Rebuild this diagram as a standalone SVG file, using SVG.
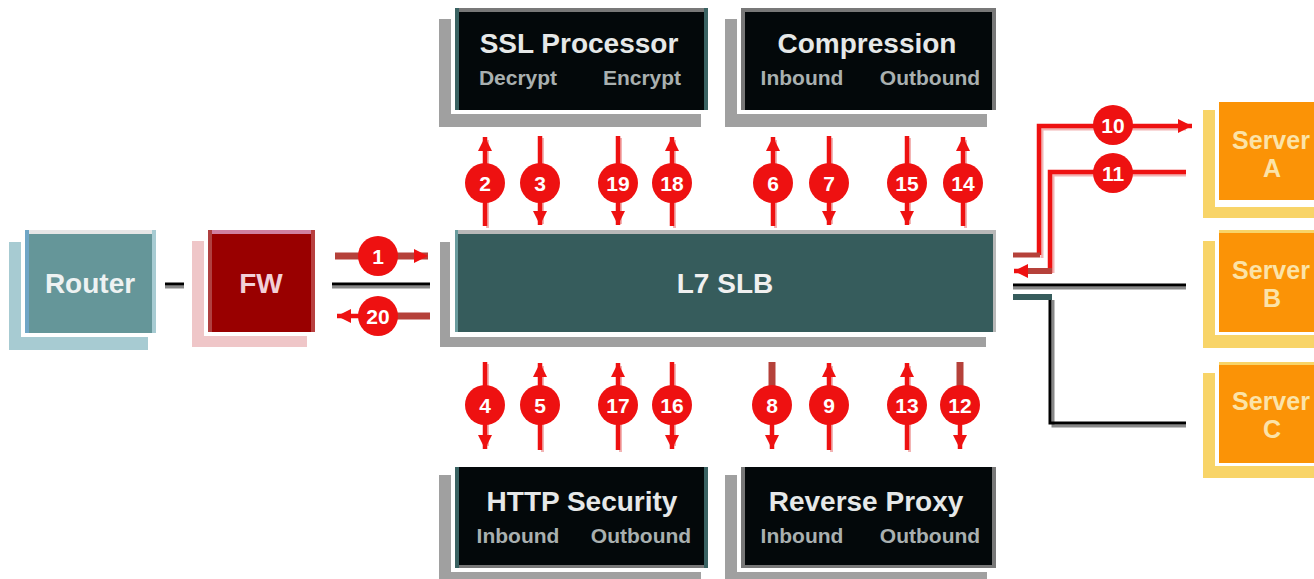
<svg xmlns="http://www.w3.org/2000/svg" width="1314" height="579" viewBox="0 0 1314 579">
<defs>
<marker id="ah" markerUnits="userSpaceOnUse" markerWidth="16" markerHeight="16" refX="14" refY="7" orient="auto"><path d="M0,0 L14,7 L0,14 Z" fill="#ee1111"/></marker>
<style>
text{font-family:"Liberation Sans",Arial,sans-serif;font-weight:bold;text-anchor:middle}
.t{font-size:28px}
.tm{font-size:28px;fill:#e6e8e8}
.s{font-size:21px;fill:#a9b0b0}
.sv{font-size:25px;fill:#fbe3a8}
.mod{fill:#03080a}
.gsh{fill:#a0a0a0}
.w{fill:#fff}
.gb{fill:#787878}
.tb{fill:#3a6262}
.ysh{fill:#f8d468}
.srv{fill:#fb9306}
.num{font-size:21px;fill:#fff}
.c{fill:#ee1111}
.r{stroke:#ee1111;stroke-width:4.5;fill:none}
.rd{stroke:#b5413a;stroke-width:7;fill:none}
.rs{stroke:#f2b4b4;stroke-width:3;fill:none}
.k{stroke:#000;stroke-width:3;fill:none}
.ks{stroke:#888;stroke-width:3;fill:none}
</style>
</defs>
<rect width="1314" height="579" fill="#fff"/>

<g id="router">
<rect x="9" y="242" width="139" height="108" fill="#a7cbd2"/>
<rect x="21" y="226" width="140" height="111" class="w"/>
<rect x="25" y="230" width="131" height="103" fill="#659699"/>
<rect x="25" y="230" width="131" height="4" fill="#e6e6e6"/>
<rect x="25" y="230" width="4" height="103" fill="#6fa6c6"/>
<rect x="152" y="230" width="4" height="103" fill="#a7cbd2"/>
<text class="t" x="90" y="293" fill="#eef2f2">Router</text>
</g>

<g id="fw">
<rect x="192" y="241" width="115" height="106" fill="#efc6c8"/>
<rect x="204" y="226" width="115" height="110" class="w"/>
<rect x="208" y="230" width="107" height="102" fill="#990000"/>
<rect x="208" y="230" width="107" height="4" fill="#d080a0"/>
<rect x="208" y="230" width="4" height="102" fill="#b04040"/>
<rect x="311" y="230" width="4" height="102" fill="#b84040"/>
<text class="t" x="261" y="293" fill="#f2d0d8">FW</text>
</g>

<g id="l7slb">
<rect x="440" y="242" width="546" height="105" class="gsh"/>
<rect x="450" y="226" width="551" height="111" class="w"/>
<rect x="455" y="230" width="541" height="102" fill="#365c5c"/>
<rect x="455" y="230" width="541" height="4" fill="#b8b8b8"/>
<rect x="455" y="230" width="3" height="102" fill="#6a9c9e"/>
<rect x="993" y="230" width="3" height="102" fill="#b8b8b8"/>
<text class="t" x="725" y="293" fill="#f0f0f0">L7 SLB</text>
</g>

<g id="ssl">
<rect x="439" y="19" width="262" height="108" class="gsh"/>
<rect x="451" y="4" width="261" height="110" class="w"/>
<rect x="455" y="8" width="253" height="102" class="mod"/>
<rect x="455" y="8" width="253" height="4" class="gb"/>
<rect x="455" y="8" width="4" height="102" class="tb"/>
<rect x="704" y="8" width="4" height="102" class="tb"/>
<text class="tm" x="579" y="53">SSL Processor</text>
<text class="s" x="518" y="85">Decrypt</text>
<text class="s" x="642" y="85">Encrypt</text>
</g>

<g id="compression">
<rect x="725" y="19" width="262" height="108" class="gsh"/>
<rect x="737" y="4" width="263" height="110" class="w"/>
<rect x="741" y="8" width="255" height="102" class="mod"/>
<rect x="741" y="8" width="255" height="4" class="gb"/>
<rect x="741" y="8" width="4" height="102" class="gb"/>
<rect x="992" y="8" width="4" height="102" class="gb"/>
<text class="tm" x="867" y="53">Compression</text>
<text class="s" x="802" y="85">Inbound</text>
<text class="s" x="930" y="85">Outbound</text>
</g>

<g id="http-security">
<rect x="439" y="475" width="262" height="110" class="gsh"/>
<rect x="451" y="463" width="261" height="109" class="w"/>
<rect x="455" y="467" width="253" height="101" class="mod"/>
<rect x="455" y="565" width="253" height="3" class="gb"/>
<rect x="455" y="467" width="4" height="101" class="tb"/>
<rect x="704" y="467" width="4" height="101" class="tb"/>
<text class="tm" x="582" y="511">HTTP Security</text>
<text class="s" x="518" y="543">Inbound</text>
<text class="s" x="641" y="543">Outbound</text>
</g>

<g id="reverse-proxy">
<rect x="725" y="475" width="262" height="110" class="gsh"/>
<rect x="737" y="463" width="263" height="109" class="w"/>
<rect x="741" y="467" width="255" height="101" class="mod"/>
<rect x="741" y="565" width="255" height="3" class="gb"/>
<rect x="741" y="467" width="4" height="101" class="gb"/>
<rect x="992" y="467" width="4" height="101" class="gb"/>
<text class="tm" x="866" y="511">Reverse Proxy</text>
<text class="s" x="802" y="543">Inbound</text>
<text class="s" x="930" y="543">Outbound</text>
</g>

<g id="server-a">
<rect x="1203" y="110" width="120" height="108" class="ysh"/>
<rect x="1215" y="98" width="110" height="109" class="w"/>
<rect x="1219" y="102" width="100" height="98" class="srv"/>
<text class="sv" x="1271" y="149">Server</text>
<text class="sv" x="1272" y="177">A</text>
</g>

<g id="server-b">
<rect x="1203" y="241" width="120" height="107" class="ysh"/>
<rect x="1215" y="226" width="110" height="109" class="w"/>
<rect x="1219" y="230" width="100" height="102" class="srv"/>
<rect x="1219" y="230" width="100" height="3" class="ysh"/>
<text class="sv" x="1271" y="279">Server</text>
<text class="sv" x="1272" y="307">B</text>
</g>

<g id="server-c">
<rect x="1203" y="373" width="120" height="105" class="ysh"/>
<rect x="1215" y="358" width="110" height="108" class="w"/>
<rect x="1219" y="362" width="100" height="101" class="srv"/>
<rect x="1219" y="362" width="100" height="3" class="ysh"/>
<text class="sv" x="1271" y="410">Server</text>
<text class="sv" x="1272" y="438">C</text>
</g>

<g id="connectors">
<path class="ks" d="M165 287 H184"/>
<path class="k" d="M165 284 H184"/>
<path class="ks" d="M332 287 H430"/>
<path class="k" d="M332 284 H430"/>

<path class="rd" d="M335 256 H428" marker-end="url(#ah)"/>
<circle class="c" cx="378" cy="256" r="20"/><text class="num" x="378" y="263.5">1</text>
<path class="r" d="M430 316 H337" marker-end="url(#ah)"/>
<path class="rd" d="M396 316 H430"/>
<circle class="c" cx="378" cy="316" r="20"/><text class="num" x="378" y="323.5">20</text>

<path class="rs" d="M487.5 228 V140"/><path class="r" d="M485 226 V137" marker-end="url(#ah)"/>
<path class="rs" d="M542.5 138 V224"/><path class="r" d="M540 136 V225" marker-end="url(#ah)"/>
<path class="rs" d="M620.5 138 V224"/><path class="r" d="M618 136 V225" marker-end="url(#ah)"/>
<path class="rs" d="M674.5 228 V140"/><path class="r" d="M672 226 V137" marker-end="url(#ah)"/>
<path class="rs" d="M775.5 228 V140"/><path class="r" d="M773 226 V137" marker-end="url(#ah)"/>
<path class="rs" d="M831.5 138 V224"/><path class="r" d="M829 136 V225" marker-end="url(#ah)"/>
<path class="rs" d="M909.5 138 V224"/><path class="r" d="M907 136 V225" marker-end="url(#ah)"/>
<path class="rs" d="M965.5 228 V140"/><path class="r" d="M963 226 V137" marker-end="url(#ah)"/>
<circle class="c" cx="485" cy="183" r="20"/><text class="num" x="485" y="190.5">2</text>
<circle class="c" cx="540" cy="183" r="20"/><text class="num" x="540" y="190.5">3</text>
<circle class="c" cx="618" cy="183" r="20"/><text class="num" x="618" y="190.5">19</text>
<circle class="c" cx="672" cy="183" r="20"/><text class="num" x="672" y="190.5">18</text>
<circle class="c" cx="773" cy="183" r="20"/><text class="num" x="773" y="190.5">6</text>
<circle class="c" cx="829" cy="183" r="20"/><text class="num" x="829" y="190.5">7</text>
<circle class="c" cx="907" cy="183" r="20"/><text class="num" x="907" y="190.5">15</text>
<circle class="c" cx="963" cy="183" r="20"/><text class="num" x="963" y="190.5">14</text>

<path class="rs" d="M487.5 364 V446"/><path class="r" d="M485 362 V449" marker-end="url(#ah)"/>
<path class="rs" d="M542.5 452 V366"/><path class="r" d="M540 450 V363" marker-end="url(#ah)"/>
<path class="rs" d="M620.5 452 V366"/><path class="r" d="M618 450 V363" marker-end="url(#ah)"/>
<path class="rs" d="M674.5 364 V446"/><path class="r" d="M672 362 V449" marker-end="url(#ah)"/>
<path class="r" d="M772 362 V449" marker-end="url(#ah)"/><path class="rd" d="M772 362 V390"/>
<path class="rs" d="M831.5 452 V366"/><path class="r" d="M829 450 V363" marker-end="url(#ah)"/>
<path class="rs" d="M909.5 452 V366"/><path class="r" d="M907 450 V363" marker-end="url(#ah)"/>
<path class="r" d="M960 362 V449" marker-end="url(#ah)"/><path class="rd" d="M960 362 V390"/>
<circle class="c" cx="485" cy="405" r="20"/><text class="num" x="485" y="412.5">4</text>
<circle class="c" cx="540" cy="405" r="20"/><text class="num" x="540" y="412.5">5</text>
<circle class="c" cx="618" cy="405" r="20"/><text class="num" x="618" y="412.5">17</text>
<circle class="c" cx="672" cy="405" r="20"/><text class="num" x="672" y="412.5">16</text>
<circle class="c" cx="772" cy="405" r="20"/><text class="num" x="772" y="412.5">8</text>
<circle class="c" cx="829" cy="405" r="20"/><text class="num" x="829" y="412.5">9</text>
<circle class="c" cx="907" cy="405" r="20"/><text class="num" x="907" y="412.5">13</text>
<circle class="c" cx="960" cy="405" r="20"/><text class="num" x="960" y="412.5">12</text>

<path class="rs" d="M1042 258 V129 H1186"/>
<path class="r" d="M1039 255 V126 H1192" marker-end="url(#ah)"/>
<path class="rd" d="M1013 255 H1040" style="stroke-width:5"/>
<circle class="c" cx="1113" cy="125" r="20"/><text class="num" x="1113" y="132.5">10</text>
<path class="rs" d="M1186 175 H1053 V273"/>
<path class="r" d="M1186 172 H1050 V271 H1014" marker-end="url(#ah)"/>
<path class="rd" d="M1028 271 H1052" style="stroke-width:6"/>
<circle class="c" cx="1113" cy="173" r="20"/><text class="num" x="1113" y="180.5">11</text>
<path class="ks" d="M1013 288 H1186"/>
<path class="k" d="M1013 285 H1186"/>
<path class="ks" d="M1053 300 V426 H1186"/>
<path class="k" d="M1050 297 V423 H1186"/>
<path d="M1013 297 H1052" stroke="#365c5c" stroke-width="6" fill="none"/>
</g>
</svg>
